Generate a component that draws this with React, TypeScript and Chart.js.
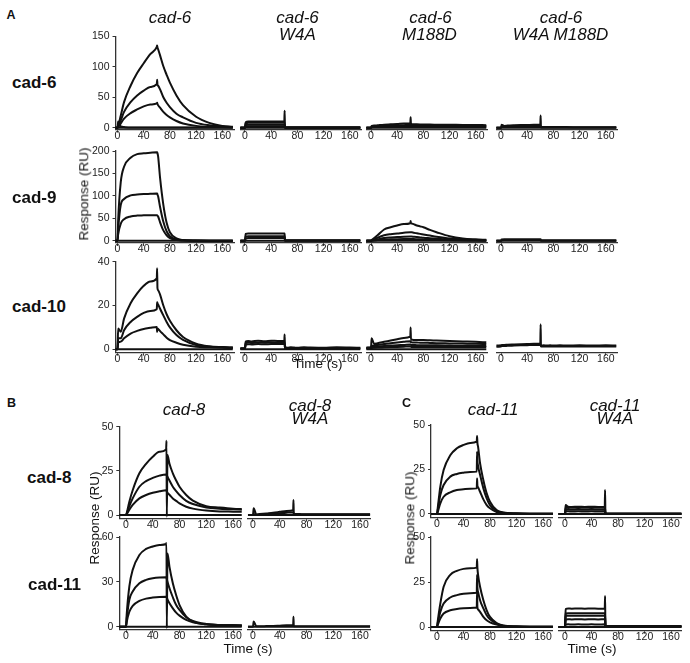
import React, { useEffect, useRef } from "react";
import { Chart, registerables } from "chart.js";

Chart.register(...registerables);

const FONT = "'Liberation Sans', Arial, Helvetica, sans-serif";

// ---- shared time grid (s) ----
const TIME = [-10, 0, 1, 5, 10, 20, 30, 40, 50, 60, 60.5, 61, 62, 65, 70, 75, 80, 90, 100, 120, 140, 160, 176];
const X_TICKS = [0, 40, 80, 120, 160];
const ZERO = [0, 0, 0, 0, 0, 0, 0, 0, 0, 0, 0, 0, 0, 0, 0, 0, 0, 0, 0, 0, 0, 0, 0];

// ---- y tick labels ----
const A_ROW1_TICKS = [0, 50, 100, 150];
const A_ROW2_TICKS = [0, 50, 100, 150, 200];
const A_ROW3_TICKS = [0, 20, 40];
const B_ROW1_TICKS = [0, 25, 50];
const B_ROW2_TICKS = [0, 30, 60];
const C_TICKS = [0, 25, 50];

// ---- Panel A, row cad-6 ----
const A11_BASE = [0, 0, 10, 2, 1, 0.5, 0.5, 0.5, 0.5, 0.5, 0.5, 0.5, 0.5, 0.5, 0.5, 0.5, 0.5, 0.5, 0.5, 0.5, 0.5, 0.5, 0.5];
const A11_HI = [0, 0, 3, 20, 42, 69, 90, 106, 121, 133, 135, 132, 129, 119, 101, 87, 74, 53, 37, 18, 8, 3, 1.5];
const A11_MID = [0, 0, 2, 12, 26, 42, 53, 61, 67, 71.5, 79, 71, 69, 63, 50, 41, 34, 23, 17, 8, 4, 2, 1];
const A11_LO = [0, 0, 1, 7, 15, 24, 30, 35, 38, 40, 41, 39, 37, 33, 26, 21, 17, 11, 7, 3, 1.5, 1, 0.5];

const A12_1 = [0, 0, 9, 10, 10, 10, 10, 10, 10, 10, 28, 0.5, 0.5, 0.5, 0.5, 0.5, 0.5, 0.5, 0.5, 0.5, 0.5, 0.5, 0.5];
const A12_2 = [0, 0, 7, 8, 8, 8, 8, 8, 8, 8, 8, 0.3, 0.3, 0.3, 0.3, 0.3, 0.3, 0.3, 0.3, 0.3, 0.3, 0.3, 0.3];
const A12_3 = [0, 0, 4.5, 5, 5, 5, 5, 5, 5, 5, 5, 0.2, 0.2, 0.2, 0.2, 0.2, 0.2, 0.2, 0.2, 0.2, 0.2, 0.2, 0.2];
const A12_4 = [0, 0, 2, 2.5, 2.5, 2.5, 2.5, 2.5, 2.5, 2.5, 2.5, 0, 0, 0, 0, 0, 0, 0, 0, 0, 0, 0, 0];

const A13_1 = [0, 0, 3, 3.5, 4, 5, 5.5, 6, 6.8, 7.5, 17, 6, 5.8, 5.6, 5.5, 5.4, 5.3, 5.1, 5, 4.8, 4.6, 4.4, 4.2];
const A13_2 = [0, 0, 1.5, 2, 2.5, 3, 3.5, 3.8, 4.2, 4.5, 4.5, 3.6, 3.5, 3.4, 3.3, 3.3, 3.2, 3.1, 3, 2.9, 2.8, 2.7, 2.6];
const A13_3 = [0, 0, 0.8, 1, 1.2, 1.5, 1.7, 1.9, 2.1, 2.3, 2.3, 1.8, 1.8, 1.8, 1.7, 1.7, 1.7, 1.6, 1.6, 1.5, 1.5, 1.4, 1.4];

const A14_1 = [0, 0, 5, 3, 3.5, 4, 4.3, 4.5, 4.8, 5, 20, 1, 1, 1, 1, 1, 1, 1, 1, 0.8, 0.8, 0.8, 0.8];
const A14_2 = [0, 0, 1, 1.5, 2, 2.3, 2.5, 2.7, 2.9, 3, 3, 0.5, 0.5, 0.5, 0.5, 0.5, 0.5, 0.5, 0.5, 0.5, 0.5, 0.5, 0.5];

// ---- Panel A, row cad-9 ----
const A21_HI = [0, 0, 45, 131, 165, 185, 193, 195, 196, 197, 197, 195, 188, 140, 80, 40, 19, 5, 1.5, 0.3, 0, 0, 0];
const A21_MID = [0, 0, 25, 80, 93, 101, 103, 104, 104.5, 105, 105, 103, 99, 75, 42, 21, 10, 2.5, 0.8, 0.2, 0, 0, 0];
const A21_LO = [0, 0, 14, 38, 48, 54, 56, 56.5, 57, 57, 57, 56, 54, 41, 23, 12, 5.5, 1.5, 0.5, 0.1, 0, 0, 0];

const A22_1 = [0, 0, 15, 16, 16, 16, 16, 16, 16, 16, 16, 0.5, 0.5, 0.5, 0.5, 0.5, 0.5, 0.5, 0.5, 0.5, 0.5, 0.5, 0.5];
const A22_2 = [0, 0, 9, 10, 10, 10, 10, 10, 10, 10, 10, 0.3, 0.3, 0.3, 0.3, 0.3, 0.3, 0.3, 0.3, 0.3, 0.3, 0.3, 0.3];
const A22_3 = [0, 0, 5, 6, 6, 6, 6, 6, 6, 6, 6, 0.2, 0.2, 0.2, 0.2, 0.2, 0.2, 0.2, 0.2, 0.2, 0.2, 0.2, 0.2];

const A23_1 = [0, 0, 1.5, 6, 12, 25, 30, 34, 37, 39, 44, 39, 38.5, 37, 34, 32, 30, 24, 19, 10, 5, 3, 2];
const A23_2 = [0, 0, 0.8, 3, 6.6, 12, 14.5, 16, 17.7, 19, 19, 18.8, 18.6, 17.8, 16.5, 15.2, 14, 11.5, 9, 5, 3, 1.5, 1];
const A23_3 = [0, 0, 0.4, 1.5, 3, 6, 7.3, 8, 9, 9.5, 9.5, 9.4, 9.3, 8.9, 8.2, 7.4, 6.6, 5.5, 4.4, 2.2, 1.5, 1, 0.5];
const A23_4 = [0, 0, 0.2, 0.7, 1.3, 2.5, 3, 3.5, 3.8, 4, 4, 4, 3.9, 3.7, 3.4, 3.1, 2.8, 2.2, 1.7, 1, 0.6, 0.4, 0.3];

const A24_1 = [0, 0, 2.5, 3, 3, 3, 3, 3, 3, 3, 3, 0.5, 0.5, 0.5, 0.5, 0.5, 0.5, 0.5, 0.5, 0.5, 0.5, 0.5, 0.5];
const A24_2 = [0, 0, 1, 1.5, 1.5, 1.5, 1.5, 1.5, 1.5, 1.5, 1.5, 0.3, 0.3, 0.3, 0.3, 0.3, 0.3, 0.3, 0.3, 0.3, 0.3, 0.3, 0.3];

// ---- Panel A, row cad-10 ----
const A31_HI = [0, 0, 9.5, 8, 14, 21, 25.5, 29, 31, 32.4, 37, 28, 27, 25, 20, 16, 13, 8.7, 5.6, 2.6, 1.4, 1, 0.8];
const A31_MID = [0, 0, 5, 5, 8.7, 12.5, 14.8, 16.6, 17.5, 18.3, 21.5, 21, 20.5, 18.5, 15.5, 12.5, 10, 6.5, 4.3, 2, 1.2, 1, 0.8];
const A31_LO = [0, 0, 3, 3.5, 5, 7.2, 8.4, 9.3, 9.8, 10.2, 8, 9.5, 9.3, 8.3, 6.8, 5.3, 4.2, 3, 2.1, 1.2, 0.9, 0.7, 0.6];

const A32_1 = [0.5, 0.5, 3.5, 3.8, 3.6, 3.9, 3.7, 3.9, 3.8, 3.9, 6.8, 0.8, 0.9, 0.7, 0.9, 0.8, 0.7, 0.9, 0.8, 0.7, 0.9, 0.8, 0.7];
const A32_2 = [0.4, 0.4, 2.8, 3.1, 2.9, 3.1, 3, 3.2, 3.1, 3.2, 3.2, 0.6, 0.6, 0.5, 0.6, 0.6, 0.5, 0.6, 0.6, 0.5, 0.6, 0.6, 0.5];
const A32_3 = [0.3, 0.3, 2.1, 2.3, 2.2, 2.4, 2.3, 2.4, 2.4, 2.5, 2.5, 0.4, 0.4, 0.4, 0.4, 0.4, 0.4, 0.4, 0.4, 0.4, 0.4, 0.4, 0.4];

const A33_1 = [0.8, 1, 5, 2.4, 2.8, 3.4, 4, 4.6, 5.2, 5.8, 9.9, 4.4, 4.4, 4.3, 4.3, 4.2, 4.2, 4.1, 4, 3.8, 3.6, 3.4, 3.2];
const A33_2 = [0.6, 0.8, 1.5, 1.8, 2, 2.4, 2.8, 3.1, 3.4, 3.7, 3.7, 3.2, 3.2, 3.1, 3.1, 3, 3, 2.9, 2.8, 2.7, 2.6, 2.5, 2.4];
const A33_3 = [0.5, 0.6, 1, 1.2, 1.3, 1.5, 1.7, 1.9, 2, 2.2, 2.2, 2, 2, 2, 1.9, 1.9, 1.9, 1.8, 1.8, 1.7, 1.6, 1.6, 1.5];
const A33_4 = [0.4, 0.5, 0.6, 0.7, 0.8, 0.9, 1, 1.1, 1.2, 1.3, 1.3, 1.1, 1.1, 1.1, 1.1, 1, 1, 1, 1, 1, 1, 1, 1];

const A34_1 = [1.7, 1.8, 2, 2, 2.1, 2.2, 2.3, 2.4, 2.5, 2.6, 11.4, 1.8, 1.7, 1.8, 1.7, 1.8, 1.7, 1.8, 1.7, 1.8, 1.7, 1.8, 1.7];
const A34_2 = [1.2, 1.3, 1.5, 1.5, 1.6, 1.7, 1.8, 1.9, 2, 2, 2, 1.3, 1.3, 1.3, 1.3, 1.3, 1.3, 1.3, 1.3, 1.3, 1.3, 1.3, 1.3];

// ---- Panel B ----
const B11_HI = [0, 0, 1, 7.5, 14, 23.6, 29, 33, 35.8, 37.2, 42, -1, 34, 29, 23.6, 19.5, 16, 11.3, 8.1, 5, 4.2, 3.6, 3.4];
const B11_MID = [0, 0, 0.7, 5, 9.4, 16, 19.2, 21, 22.3, 23, 23, 22.5, 21.7, 19.5, 16, 13.5, 11.3, 8, 6.2, 4.3, 3.6, 3.2, 3];
const B11_LO = [0, 0, 0.4, 3, 5.7, 9.4, 11.3, 12.6, 13.4, 14, 14, 13.5, 12.6, 11.5, 9.4, 8, 6.6, 4.7, 3.6, 2.5, 2, 1.9, 1.8];

const B12_1 = [0, 0, 3.8, 0.3, 0.5, 0.9, 1.3, 1.8, 2.3, 2.8, 8.5, 0.5, 0.5, 0.5, 0.5, 0.4, 0.4, 0.4, 0.4, 0.4, 0.4, 0.4, 0.4];
const B12_2 = [0, 0, 0.5, 0.2, 0.3, 0.5, 0.7, 1, 1.3, 1.5, 1.5, 0.3, 0.3, 0.3, 0.3, 0.3, 0.3, 0.3, 0.3, 0.3, 0.3, 0.3, 0.3];

const B21_HI = [0, 0, 8, 27, 38, 48, 52, 53.7, 54.6, 55.3, 56, -1, 49, 40, 29, 21, 14.5, 6.7, 3.4, 1.6, 1.1, 0.9, 0.8];
const B21_MID = [0, 0, 5, 18, 23.5, 29, 31.3, 32.4, 32.9, 33, 33, 32, 30, 25.7, 19.7, 14.5, 11.2, 6.3, 3.8, 1.8, 1.1, 0.9, 0.8];
const B21_LO = [0, 0, 3, 10, 13.9, 17.2, 18.8, 19.5, 19.9, 20, 20, 19.5, 18.3, 15.7, 12.3, 9.4, 7.4, 4.5, 2.9, 1.6, 1.1, 0.9, 0.8];

const B22_1 = [0, 0, 3.4, 0.3, 0.3, 0.4, 0.5, 0.7, 0.9, 1, 6.7, 0.3, 0.3, 0.3, 0.3, 0.3, 0.3, 0.3, 0.3, 0.3, 0.3, 0.3, 0.3];

// ---- Panel C ----
const C11_HI = [0, 0, 3, 15.4, 24.7, 33, 36.9, 38.8, 39.9, 40.6, 43.8, 40, 37.8, 28.5, 19, 11.6, 6.9, 2.2, 0.9, 0.4, 0.2, 0.2, 0.2];
const C11_MID = [0, 0, 2, 10.7, 16.3, 21, 22.5, 23.2, 23.6, 23.8, 35, 30, 27, 22, 14.4, 8.8, 5, 1.7, 0.7, 0.3, 0.2, 0.2, 0.2];
const C11_LO = [0, 0, 1, 6, 9.7, 12.2, 13.5, 13.9, 14.2, 14.4, 20, 16, 15, 12.5, 8.2, 5, 3.2, 1.1, 0.5, 0.2, 0.2, 0.2, 0.2];

const C12_1 = [0, 0, 5, 4.1, 4, 4.1, 4, 4.1, 4, 4.1, 13.5, 0.2, 0.2, 0.2, 0.2, 0.2, 0.2, 0.2, 0.2, 0.2, 0.2, 0.2, 0.2];
const C12_2 = [0, 0, 3.5, 3.4, 3.5, 3.4, 3.5, 3.4, 3.5, 3.5, 3.5, 0.2, 0.2, 0.2, 0.2, 0.2, 0.2, 0.2, 0.2, 0.2, 0.2, 0.2, 0.2];
const C12_3 = [0, 0, 2.5, 2.5, 2.4, 2.5, 2.4, 2.5, 2.4, 2.5, 2.5, 0.1, 0.1, 0.1, 0.1, 0.1, 0.1, 0.1, 0.1, 0.1, 0.1, 0.1, 0.1];
const C12_4 = [0, 0, 1.5, 1.5, 1.4, 1.5, 1.4, 1.5, 1.4, 1.5, 1.5, 0.1, 0.1, 0.1, 0.1, 0.1, 0.1, 0.1, 0.1, 0.1, 0.1, 0.1, 0.1];

const C21_HI = [0, 0, 3, 13, 22.4, 29, 31.2, 32.3, 32.6, 33, 37.7, 33, 29, 22.4, 14.9, 9.3, 5.6, 2.2, 0.9, 0.4, 0.2, 0.2, 0.2];
const C21_MID = [0, 0, 2, 8.4, 13, 16.4, 17.7, 18.5, 18.8, 19, 29, 22, 19.5, 14.9, 10.3, 6.5, 4.3, 1.9, 0.7, 0.3, 0.2, 0.2, 0.2];
const C21_LO = [0, 0, 1, 4.7, 7.5, 9.3, 10, 10.4, 10.6, 10.8, 19.6, 11, 9.7, 8.4, 5.6, 3.7, 2.6, 1.3, 0.5, 0.2, 0.2, 0.2, 0.2];

const C22_1 = [0, 0, 10, 10.3, 10.2, 10.3, 10.2, 10.3, 10.2, 10.3, 17.2, 0.5, 0.5, 0.5, 0.5, 0.5, 0.5, 0.5, 0.5, 0.5, 0.5, 0.5, 0.5];
const C22_2 = [0, 0, 7.5, 7.7, 7.6, 7.7, 7.6, 7.7, 7.6, 7.7, 7.7, 0.4, 0.4, 0.4, 0.4, 0.4, 0.4, 0.4, 0.4, 0.4, 0.4, 0.4, 0.4];
const C22_3 = [0, 0, 6.2, 6.3, 6.2, 6.3, 6.2, 6.3, 6.2, 6.3, 6.3, 0.3, 0.3, 0.3, 0.3, 0.3, 0.3, 0.3, 0.3, 0.3, 0.3, 0.3, 0.3];
const C22_4 = [0, 0, 4.2, 4.3, 4.2, 4.3, 4.2, 4.3, 4.2, 4.3, 4.3, 0.3, 0.3, 0.3, 0.3, 0.3, 0.3, 0.3, 0.3, 0.3, 0.3, 0.3, 0.3];
const C22_5 = [0, 0, 1.4, 1.5, 1.4, 1.5, 1.4, 1.5, 1.4, 1.5, 1.5, 0.2, 0.2, 0.2, 0.2, 0.2, 0.2, 0.2, 0.2, 0.2, 0.2, 0.2, 0.2];

// ---- layout geometry (pixels) ----
type Geo = { t0: number; pps: number; xMin: number; xMax: number; y0: number; ppu: number; yMin: number; yMax: number };
type Spec = Geo & { yTicks: number[] | null; series: number[][] };

const A_PPS = 0.655;
const A_COLS = [
  { t0: 117.5, xMin: -3 },
  { t0: 245, xMin: -7 },
  { t0: 371, xMin: -7 },
  { t0: 501, xMin: -7 },
];
const A_ROWS = [
  { y0: 127.7, ppu: 0.608, yMin: -3, yMax: 150, ticks: A_ROW1_TICKS },
  { y0: 240.7, ppu: 0.4485, yMin: -5, yMax: 200, ticks: A_ROW2_TICKS },
  { y0: 349.3, ppu: 2.19, yMin: -1.5, yMax: 40, ticks: A_ROW3_TICKS },
];
const A_SERIES = [
  [[A11_BASE, ZERO, A11_LO, A11_MID, A11_HI], [ZERO, A12_4, A12_3, A12_2, A12_1], [ZERO, A13_3, A13_2, A13_1], [ZERO, A14_2, A14_1]],
  [[ZERO, A21_LO, A21_MID, A21_HI], [ZERO, A22_3, A22_2, A22_1], [ZERO, A23_4, A23_3, A23_2, A23_1], [ZERO, A24_2, A24_1]],
  [[ZERO, A31_LO, A31_MID, A31_HI], [ZERO, A32_3, A32_2, A32_1], [ZERO, A33_4, A33_3, A33_2, A33_1], [A34_2, A34_1]],
];

const SPECS: Spec[] = [];
A_ROWS.forEach((r, ri) => {
  A_COLS.forEach((c, ci) => {
    SPECS.push({
      t0: c.t0, pps: A_PPS, xMin: c.xMin, xMax: 178,
      y0: r.y0, ppu: r.ppu, yMin: r.yMin, yMax: r.yMax,
      yTicks: ci === 0 ? r.ticks : null,
      series: A_SERIES[ri][ci],
    });
  });
});

// Panel B
SPECS.push({ t0: 126, pps: 0.669, xMin: -10, xMax: 173, y0: 515, ppu: 1.766, yMin: -2, yMax: 50, yTicks: B_ROW1_TICKS, series: [ZERO, B11_LO, B11_MID, B11_HI] });
SPECS.push({ t0: 253, pps: 0.669, xMin: -7.5, xMax: 175, y0: 515, ppu: 1.766, yMin: -2, yMax: 50, yTicks: null, series: [ZERO, B12_2, B12_1] });
SPECS.push({ t0: 126, pps: 0.669, xMin: -10, xMax: 173, y0: 626.7, ppu: 1.495, yMin: -2, yMax: 60, yTicks: B_ROW2_TICKS, series: [ZERO, B21_LO, B21_MID, B21_HI] });
SPECS.push({ t0: 253, pps: 0.669, xMin: -7.5, xMax: 175, y0: 626.7, ppu: 1.495, yMin: -2, yMax: 60, yTicks: null, series: [ZERO, B22_1] });

// Panel C
SPECS.push({ t0: 437, pps: 0.6625, xMin: -9, xMax: 175, y0: 514, ppu: 1.78, yMin: -2, yMax: 50, yTicks: C_TICKS, series: [ZERO, C11_LO, C11_MID, C11_HI] });
SPECS.push({ t0: 565, pps: 0.6625, xMin: -10, xMax: 176, y0: 514, ppu: 1.78, yMin: -2, yMax: 50, yTicks: null, series: [ZERO, C12_4, C12_3, C12_2, C12_1] });
SPECS.push({ t0: 437, pps: 0.6625, xMin: -9, xMax: 175, y0: 627, ppu: 1.8, yMin: -2, yMax: 50, yTicks: C_TICKS, series: [ZERO, C21_LO, C21_MID, C21_HI] });
SPECS.push({ t0: 565, pps: 0.6625, xMin: -10, xMax: 176, y0: 627, ppu: 1.8, yMin: -2, yMax: 50, yTicks: null, series: [ZERO, C22_5, C22_4, C22_3, C22_2, C22_1] });

const AXIS = "#333";
const INK = "#111";
const YW = 36; // y scale box width
const XH = 16; // x scale box height

function Plot({ spec }: { spec: Spec }) {
  const ref = useRef<HTMLCanvasElement>(null);
  const aL = spec.t0 + spec.xMin * spec.pps;
  const aR = spec.t0 + spec.xMax * spec.pps;
  const aT = spec.y0 - spec.yMax * spec.ppu;
  const aB = spec.y0 - spec.yMin * spec.ppu;
  const ML = 40, MR = 14, MT = 10, MB = 20;
  const cL = Math.floor(aL) - ML;
  const cT = Math.floor(aT) - MT;
  const cW = Math.ceil(aR) + MR - cL;
  const cH = Math.ceil(aB) + MB - cT;
  const yw = spec.yTicks ? YW : 0;

  useEffect(() => {
    const zeroPad = (s: any) => {
      s.paddingLeft = 0; s.paddingRight = 0; s.paddingTop = 0; s.paddingBottom = 0;
    };
    const chart = new Chart(ref.current as HTMLCanvasElement, {
      type: "line",
      data: {
        datasets: spec.series.map((vals) => ({
          data: TIME.map((t, i) => ({ x: t, y: vals[i] })),
          borderColor: INK,
          borderWidth: 2,
          pointRadius: 0,
          fill: false,
          cubicInterpolationMode: "monotone" as const,
        })),
      },
      options: {
        responsive: false,
        animation: false,
        devicePixelRatio: 1,
        events: [],
        layout: {
          padding: {
            left: aL - cL - yw,
            right: cL + cW - aR,
            top: aT - cT,
            bottom: cT + cH - aB - XH,
          },
        },
        plugins: { legend: { display: false }, tooltip: { enabled: false } },
        scales: {
          x: {
            type: "linear",
            min: spec.xMin,
            max: spec.xMax,
            afterBuildTicks: (s: any) => { s.ticks = X_TICKS.map((v) => ({ value: v })); },
            afterFit: (s: any) => { s.height = XH; zeroPad(s); },
            grid: { drawOnChartArea: false, drawTicks: true, tickLength: 3, color: AXIS, lineWidth: 1 },
            border: { display: true, color: AXIS, width: 1.3 },
            ticks: { font: { family: FONT, size: 10.5, lineHeight: 1 }, color: "#222", padding: -2, maxRotation: 0, autoSkip: false },
          },
          y: {
            type: "linear",
            display: !!spec.yTicks,
            min: spec.yMin,
            max: spec.yMax,
            afterBuildTicks: (s: any) => { s.ticks = (spec.yTicks || []).map((v) => ({ value: v })); },
            afterFit: (s: any) => { s.width = yw; zeroPad(s); },
            grid: { drawOnChartArea: false, drawTicks: true, tickLength: 3, color: AXIS, lineWidth: 1 },
            border: { display: true, color: AXIS, width: 1.3 },
            ticks: { font: { family: FONT, size: 10.5, lineHeight: 1 }, color: "#222", padding: 3, autoSkip: false },
          },
        },
      },
    } as any);
    return () => chart.destroy();
  }, []);

  return (
    <canvas
      ref={ref}
      width={cW}
      height={cH}
      style={{ position: "absolute", left: cL, top: cT, width: cW, height: cH }}
    />
  );
}

type Txt = { text: string; x: number; y: number; size: number; bold?: boolean; italic?: boolean; anchor?: "center" | "left"; rotate?: boolean };

const TEXTS: Txt[] = [
  { text: "A", x: 11, y: 15, size: 12.5, bold: true },
  { text: "B", x: 11.5, y: 402.5, size: 12.5, bold: true },
  { text: "C", x: 406.5, y: 402.5, size: 12.5, bold: true },
  // panel A column headers
  { text: "cad-6", x: 170, y: 17, size: 17, italic: true },
  { text: "cad-6", x: 297.5, y: 17, size: 17, italic: true },
  { text: "W4A", x: 297.5, y: 34, size: 17, italic: true },
  { text: "cad-6", x: 430.5, y: 17, size: 17, italic: true },
  { text: "M188D", x: 429.5, y: 34, size: 17, italic: true },
  { text: "cad-6", x: 561, y: 17, size: 17, italic: true },
  { text: "W4A M188D", x: 560.5, y: 34, size: 17, italic: true },
  // panel A row labels
  { text: "cad-6", x: 12, y: 82, size: 17, bold: true, anchor: "left" },
  { text: "cad-9", x: 12, y: 197, size: 17, bold: true, anchor: "left" },
  { text: "cad-10", x: 12, y: 306, size: 17, bold: true, anchor: "left" },
  { text: "Response (RU)", x: 84, y: 193.5, size: 13.5, rotate: true },
  { text: "Time (s)", x: 318, y: 364, size: 13.5 },
  // panel B
  { text: "cad-8", x: 184, y: 409, size: 17, italic: true },
  { text: "cad-8", x: 310, y: 405, size: 17, italic: true },
  { text: "W4A", x: 310, y: 418, size: 17, italic: true },
  { text: "cad-8", x: 27, y: 476.5, size: 17, bold: true, anchor: "left" },
  { text: "cad-11", x: 28, y: 583.5, size: 17, bold: true, anchor: "left" },
  { text: "Response (RU)", x: 94.5, y: 518, size: 13.5, rotate: true },
  { text: "Time (s)", x: 248, y: 649, size: 13.5 },
  // panel C
  { text: "cad-11", x: 493, y: 409, size: 17, italic: true },
  { text: "cad-11", x: 615, y: 405, size: 17, italic: true },
  { text: "W4A", x: 615, y: 418, size: 17, italic: true },
  { text: "Response (RU)", x: 409.5, y: 518, size: 13.5, rotate: true },
  { text: "Time (s)", x: 592, y: 649, size: 13.5 },
];

export default function App() {
  return (
    <div style={{ position: "absolute", left: 0, top: 0, width: 690, height: 663, background: "#fff", overflow: "hidden", fontFamily: FONT }}>
      {SPECS.map((s, i) => (
        <Plot key={i} spec={s} />
      ))}
      {TEXTS.map((t, i) => {
        const tf = t.rotate
          ? "translate(-50%, -50%) rotate(-90deg)"
          : t.anchor === "left"
          ? "translate(0, -50%)"
          : "translate(-50%, -50%)";
        return (
          <div
            key={"t" + i}
            style={{
              position: "absolute",
              left: t.x,
              top: t.y,
              transform: tf,
              fontSize: t.size,
              fontWeight: t.bold ? "bold" : "normal",
              fontStyle: t.italic ? "italic" : "normal",
              lineHeight: 1,
              whiteSpace: "nowrap",
              color: "#111",
              fontFamily: FONT,
            }}
          >
            {t.text}
          </div>
        );
      })}
    </div>
  );
}
